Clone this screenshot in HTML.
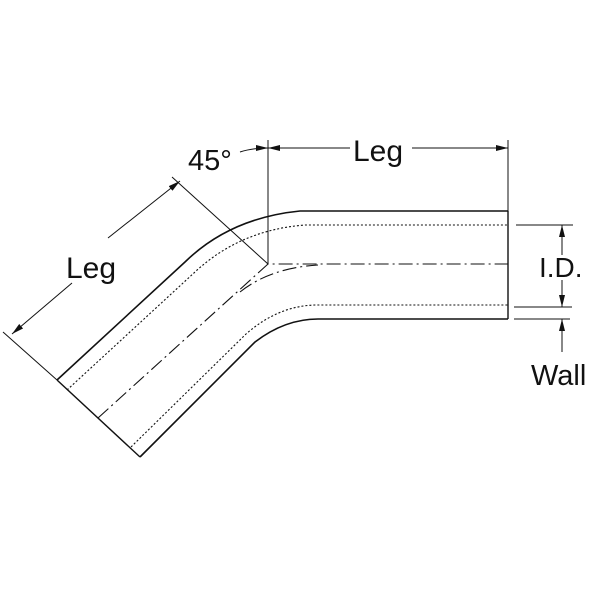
<!DOCTYPE html>
<html><head><style>
html,body{margin:0;padding:0;background:#fff;}
svg{display:block;}
text{font-family:"Liberation Sans",sans-serif;fill:#111;}
</style></head><body>
<svg width="600" height="600" viewBox="0 0 600 600" xmlns="http://www.w3.org/2000/svg">
<defs>
<marker id="a" markerWidth="12" markerHeight="6" refX="12" refY="3" orient="auto" markerUnits="userSpaceOnUse">
<path d="M0,0 L12,3 L0,6 z" fill="#111"/></marker>
</defs>
<g fill="none" stroke="#111">
<path d="M57,380 L185,262 Q230,218 300,211 L508,211" stroke-width="1.6"/>
<path d="M140,457 L255,342 Q285,319 318,319 L508,319" stroke-width="1.6"/>
<path d="M508,211 L508,319" stroke-width="1.4"/>
<path d="M57,380 L140,457" stroke-width="1.4"/>
<path d="M67,390 L195,272 Q240,230 305,225 L508,225" stroke-width="1.1" stroke-dasharray="2,2"/>
<path d="M131,447 L246,334 Q278,306 315,305 L508,305" stroke-width="1.1" stroke-dasharray="2,2"/>
<path d="M98,418 L268,264 L508,264" stroke-width="1.1" stroke-dasharray="14,4,2,4"/>
<path d="M240,292 Q270,268 318,265" stroke-width="1.1" stroke-dasharray="14,4,2,4"/>
<path d="M268,140 L268,264" stroke-width="1"/>
<path d="M508,140 L508,211" stroke-width="1"/>
<path d="M350,148 L268,148" stroke-width="1" marker-end="url(#a)"/>
<path d="M412,148 L508,148" stroke-width="1" marker-end="url(#a)"/>
<path d="M240,152 Q252,148 268,148" stroke-width="1" marker-end="url(#a)"/>
<path d="M172,177 L268,264" stroke-width="1"/>
<path d="M3,332 L57,380" stroke-width="1"/>
<path d="M108,238 L180,181" stroke-width="1" marker-end="url(#a)"/>
<path d="M72,283 L12,334" stroke-width="1" marker-end="url(#a)"/>
<path d="M516,225 L573,225 M514,307 L572,307 M514,319 L570,319" stroke-width="1"/>
<path d="M562,255 L562,225" stroke-width="1" marker-end="url(#a)"/>
<path d="M562,280 L562,307" stroke-width="1" marker-end="url(#a)"/>
<path d="M562,352 L562,319" stroke-width="1" marker-end="url(#a)"/>
</g>
<text x="353" y="161" font-size="30">Leg</text>
<text x="188" y="170" font-size="29">45°</text>
<text x="66" y="278" font-size="30">Leg</text>
<text x="539" y="277" font-size="28">I.D.</text>
<text x="531" y="385" font-size="29">Wall</text>
</svg>
</body></html>
